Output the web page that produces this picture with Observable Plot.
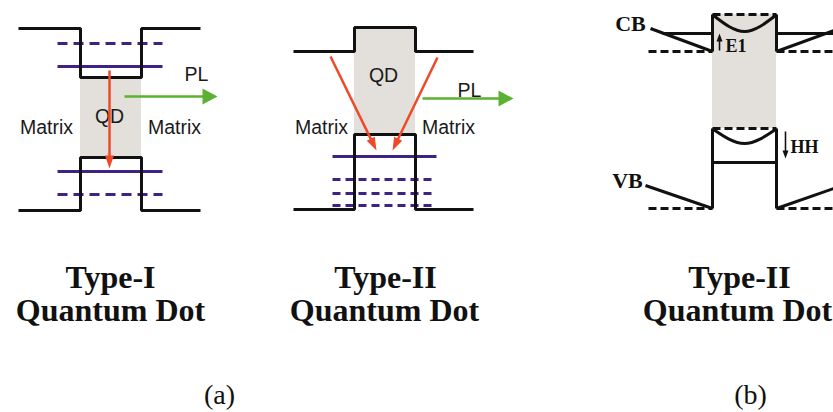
<!DOCTYPE html>
<html><head><meta charset="utf-8">
<script src="https://cdn.jsdelivr.net/npm/d3@7"></script>
<script src="https://cdn.jsdelivr.net/npm/@observablehq/plot@0.6"></script>
<style>html,body{margin:0;padding:0;background:#fff}#chart svg{display:block}</style>
</head><body><div id="chart"></div>
<script>
// ---- Band-edge profiles (diagram coordinates) ----
const typeI_CB  = [[18,28],[80,28],[80,77],[141,77],[141,28],[200,28]];
const typeI_VB  = [[18,210],[80,210],[80,157],[141,157],[141,210],[200,210]];
const typeII_CB = [[293,51],[354,51],[354,27],[415,27],[415,51],[473,51]];
const typeII_VB = [[293,209],[354,209],[354,134],[415,134],[415,209],[473,209]];
const bSolid = [
  [[650,28],[712,51]], [[662,33],[712,33]], [[712,51],[712,14]], [[776,14],[776,51]],
  [[776,33],[833,33]], [[776,51],[836,29]],
  [[645,185],[712,208]], [[712,208],[712,128]], [[776,128],[776,208]], [[776,208],[836,187]],
  [[712,162],[776,162]]
];
const bArcs = [ [[713,15],[744,31],[775,15]], [[713,129],[744,143],[775,129]] ];
const bDashed = [ [648,712,51],[776,833,51],[712,776,14],[712,776,128],[648,712,208],[776,833,208] ];
const dotRegions = [ [80,141,77,157], [354,415,27,134], [712,776,14,128] ];

// ---- Confined levels (purple) ----
const levelsSolid  = [ [57,162,66], [57,162,171], [332,436,156] ];
const levelsDashed1 = [ [57,162,43], [57,162,194] ];
const levelsDashed2 = [ [332,436,179], [332,436,193], [332,436,205] ];

// ---- Transitions ----
const recomb = [ [109,70,109,168], [330,56,376,150], [437,57,392,150] ];
const emission = [ [124,96,217,96], [422,98,513,98] ];
const shifts = [ [719,50,719,33], [785,131,785,158] ];

// ---- Labels ----
const sansLabels = [
  ["PL",196,74],["QD",109,116],["Matrix",46,127],["Matrix",174,127],
  ["QD",383,75],["PL",469,90],["Matrix",321,127],["Matrix",448,127]
];
const bandNames = [ ["CB",630,23],["VB",627,180] ];
const levelNames = [ ["E1",725,46],["HH",790,147] ];
const titles = [ ["Type-I",110,277],["Quantum Dot",110,310],["Type-II",385,277],["Quantum Dot",384,310],["Type-II",739,277],["Quantum Dot",737,310] ];
const panelTags = [ ["(a)",219,395],["(b)",750,395] ];

// ---- build tables ----
const pathRows = (name, pts) => pts.map(([x,y]) => ({g:name, x, y}));
const edges = [
  ...pathRows("a1cb", typeI_CB), ...pathRows("a1vb", typeI_VB),
  ...pathRows("a2cb", typeII_CB), ...pathRows("a2vb", typeII_VB),
  ...bSolid.flatMap((seg,i) => pathRows("b"+i, seg))
];
const arcs = bArcs.flatMap((a,i) => pathRows("arc"+i, a));
const segs = arr => arr.map(([x1,x2,y]) => ({x1,x2,y}));
const arrows = arr => arr.map(([x1,y1,x2,y2]) => {
  const L = Math.hypot(x2-x1,y2-y1);
  return {x1,y1,x2,y2,ux:(x2-x1)/L,uy:(y2-y1)/L,rot:Math.atan2(x2-x1,-(y2-y1))*180/Math.PI};
});
const head = (len, hw) => ({draw(ctx){ ctx.moveTo(0,0); ctx.lineTo(hw,len); ctx.lineTo(-hw,len); ctx.closePath(); }});

function arrowMarks(data, color, width, len, hw) {
  return [
    Plot.link(data, {x1:"x1", y1:"y1", x2:d=>d.x2-d.ux*len*0.7, y2:d=>d.y2-d.uy*len*0.7, stroke:color, strokeWidth:width}),
    Plot.dot(data, {x:"x2", y:"y2", r:1, symbol:head(len,hw), rotate:"rot", fill:color, stroke:"none"})
  ];
}

const PURPLE = "#3f2286", RED = "#ee4a2a", GREEN = "#5cb132", GREY = "#e3dfdb";
const sans = "Liberation Sans, Arial, sans-serif";
const serif = "Liberation Serif, Times New Roman, serif";
const lab = d => ({x:d=>d[1], y:d=>d[2], text:d=>d[0]});

const chart = Plot.plot({
  width: 833, height: 412, margin: 0,
  x: {domain:[0,833], range:[0,833], axis:null},
  y: {domain:[0,412], range:[0,412], axis:null},
  style: {background:"#fff"},
  marks: [
    Plot.rect(dotRegions.map(([x1,x2,y1,y2])=>({x1,x2,y1,y2})), {x1:"x1",x2:"x2",y1:"y1",y2:"y2", fill:GREY}),
    Plot.link(segs(levelsSolid), {x1:"x1", x2:"x2", y1:"y", y2:"y", stroke:PURPLE, strokeWidth:3}),
    Plot.link(segs(levelsDashed1), {x1:"x1", x2:"x2", y1:"y", y2:"y", stroke:PURPLE, strokeWidth:3, strokeDasharray:"10,6"}),
    Plot.link(segs(levelsDashed2), {x1:"x1", x2:"x2", y1:"y", y2:"y", stroke:PURPLE, strokeWidth:3, strokeDasharray:"8,5"}),
    Plot.link(segs(bDashed), {x1:"x1", x2:"x2", y1:"y", y2:"y", stroke:"#111", strokeWidth:3, strokeDasharray:"8,4"}),
    Plot.line(edges, {x:"x", y:"y", z:"g", stroke:"#111", strokeWidth:3, strokeLinejoin:"miter", strokeLinecap:"butt"}),
    Plot.line(arcs, {x:"x", y:"y", z:"g", stroke:"#111", strokeWidth:3, curve:"natural"}),
    ...arrowMarks(arrows(emission), GREEN, 2.5, 15, 8),
    Plot.text(sansLabels, {...lab(), fontFamily:sans, fontSize:19.5, fill:"#1a1a1a"}),
    ...arrowMarks(arrows(recomb), RED, 2.5, 13, 4.5),
    ...arrowMarks(arrows(shifts), "#111", 1.6, 8, 3),
    Plot.text(bandNames, {...lab(), textAnchor:"middle", fontFamily:serif, fontWeight:"bold", fontSize:22, fill:"#111"}),
    Plot.text(levelNames, {...lab(), textAnchor:"start", fontFamily:serif, fontWeight:"bold", fontSize:18, fill:"#111"}),
    Plot.text(titles, {...lab(), fontFamily:serif, fontWeight:"bold", fontSize:32, fill:"#111"}),
    Plot.text(panelTags, {...lab(), fontFamily:serif, fontSize:28, fill:"#111"})
  ]
});
document.getElementById("chart").append(chart);
</script>
</body></html>
